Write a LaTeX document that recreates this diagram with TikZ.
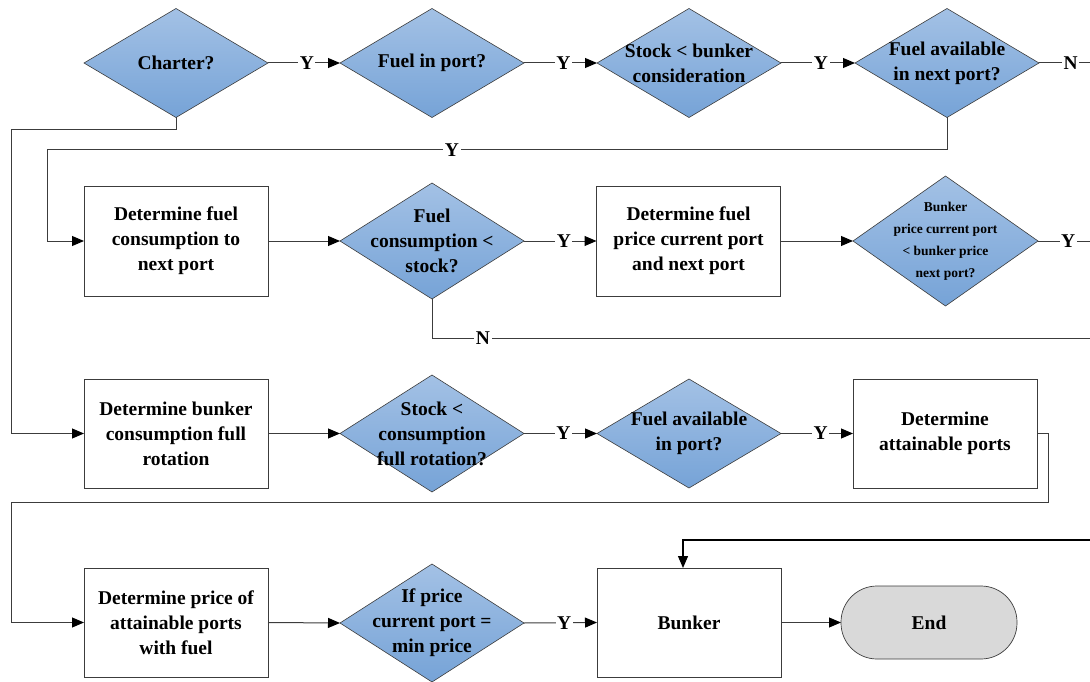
\documentclass[tikz,border=0pt]{standalone}
\usepackage{fontspec}
\setmainfont{Liberation Serif}
\usetikzlibrary{shapes.geometric,arrows.meta}

\definecolor{linegray}{HTML}{3C3C3C}
\definecolor{dtop}{HTML}{A3C1E5}
\definecolor{dbot}{HTML}{76A3D7}
\definecolor{endfill}{HTML}{D9D9D9}

\tikzset{
  txt/.style={font=\bfseries\fontsize{19.5}{25}\selectfont, align=center, inner sep=0pt},
  smalltxt/.style={font=\bfseries\fontsize{13.5}{22}\selectfont, align=center, inner sep=0pt},
  decision/.style={diamond, draw=linegray, line width=0.6pt, top color=dtop, bottom color=dbot,
    minimum width=184pt, minimum height=109pt, inner sep=0pt, outer sep=0pt},
  process/.style={rectangle, draw=linegray, line width=0.7pt, fill=white,
    minimum width=184pt, minimum height=110pt, inner sep=0pt, outer sep=0pt, txt},
  terminal/.style={rectangle, rounded corners=36pt, draw=linegray, line width=0.7pt, fill=endfill,
    minimum width=176pt, minimum height=73pt, inner sep=0pt, outer sep=0pt, txt},
  conn/.style={draw=linegray, line width=1pt},
  flow/.style={conn, -{Triangle[length=12pt,width=10pt,black]}},
  lbl/.style={fill=white, inner sep=1.5pt, font=\bfseries\fontsize{19.5}{20}\selectfont}
}

\begin{document}
\begin{tikzpicture}[x=1pt, y=-1pt]
\useasboundingbox (0,0) rectangle (1090,682);

% ---- row 1: decisions
\node[decision, label={[txt]center:Charter?}] (charter) at (176,63) {};
\node[decision, label={[txt]center:Fuel in port?}] (fip) at (432,63) {};
\node[decision, label={[txt]center:Stock < bunker\\consideration}] (sbc) at (689,63) {};
\node[decision, label={[txt]center:Fuel available\\in next port?}] (fan) at (947,63) {};

% ---- row 2
\node[process] (fcn) at (176,241) {Determine fuel\\consumption to\\next port};
\node[decision, minimum height=116pt, label={[txt]center:Fuel\\consumption <\\stock?}] (fcs) at (432,241) {};
\node[process] (fpc) at (688.5,241) {Determine fuel\\price current port\\and next port};
\node[decision, minimum width=185pt, minimum height=130pt,
      label={[smalltxt]center:Bunker\\price current port\\< bunker price\\next port?}] (bpc) at (945.5,241) {};

% ---- row 3
\node[process, minimum height=109pt] (bcf) at (176,433.5) {Determine bunker\\consumption full\\rotation};
\node[decision, minimum height=117pt, label={[txt]center:Stock <\\consumption\\full rotation?}] (scf) at (432,433.5) {};
\node[decision, label={[txt]center:Fuel available\\in port?}] (fap) at (689,433.5) {};
\node[process, minimum height=109pt] (dap) at (945,433.5) {Determine\\attainable ports};

% ---- row 4
\node[process, minimum height=109pt] (dpa) at (176,622.5) {Determine price of\\attainable ports\\with fuel};
\node[decision, minimum height=118pt, label={[txt]center:If price\\current port =\\min price}] (ipc) at (432,623) {};
\node[process, minimum height=109pt] (bunker) at (689,622.5) {Bunker};
\node[terminal] (end) at (929,622.5) {End};

% ---- loose ends leaving at the right margin
\coordinate (outN1) at (1090,63);
\coordinate (outY2) at (1090,241);
\coordinate (outN2) at (1090,338);
\coordinate (inB) at (1090,540);

% ---- row 1 connectors
\draw[flow] (charter.east) -- node[lbl,pos=0.54]{Y} (fip.west);
\draw[flow] (fip.east) -- node[lbl,pos=0.54]{Y} (sbc.west);
\draw[flow] (sbc.east) -- node[lbl,pos=0.54]{Y} (fan.west);
\draw[conn] (fan.east) -- node[lbl,pos=0.62]{N} (outN1);

% ---- returns to the left side
\draw[flow] (fan.south) |- (47,150) node[lbl] at (452,150) {Y} -- (47,241) -- (fcn.west);
\draw[flow] (charter.south) -- (176,130) -| (11,433.5) -- (bcf.west);

% ---- row 2 connectors
\draw[flow] (fcn.east) -- (fcs.west);
\draw[flow] (fcs.east) -- node[lbl,pos=0.55]{Y} (fpc.west);
\draw[flow] (fpc.east) -- (bpc.west);
\draw[conn] (bpc.east) -- node[lbl,pos=0.58]{Y} (outY2);
\draw[conn] (fcs.south) |- (outN2) node[lbl] at (483,338) {N};

% ---- row 3 connectors
\draw[flow] (bcf.east) -- (scf.west);
\draw[flow] (scf.east) -- node[lbl,pos=0.54]{Y} (fap.west);
\draw[flow] (fap.east) -- node[lbl,pos=0.55]{Y} (dap.west);
\draw[flow] (dap.east) -- (1048,433.5) -- (1048,502) -- (11,502) -- (11,622.5) -- (dpa.west);

% ---- row 4 connectors
\draw[flow] (dpa.east) -- (ipc.west);
\draw[flow] (ipc.east) -- node[lbl,pos=0.55]{Y} (bunker.west);
\draw[flow] (bunker.east) -- (end.west);
\draw[line width=1.3pt, -{Triangle[length=12pt,width=10pt]}] (inB) -| ([xshift=-6pt]bunker.north);

\end{tikzpicture}
\end{document}
